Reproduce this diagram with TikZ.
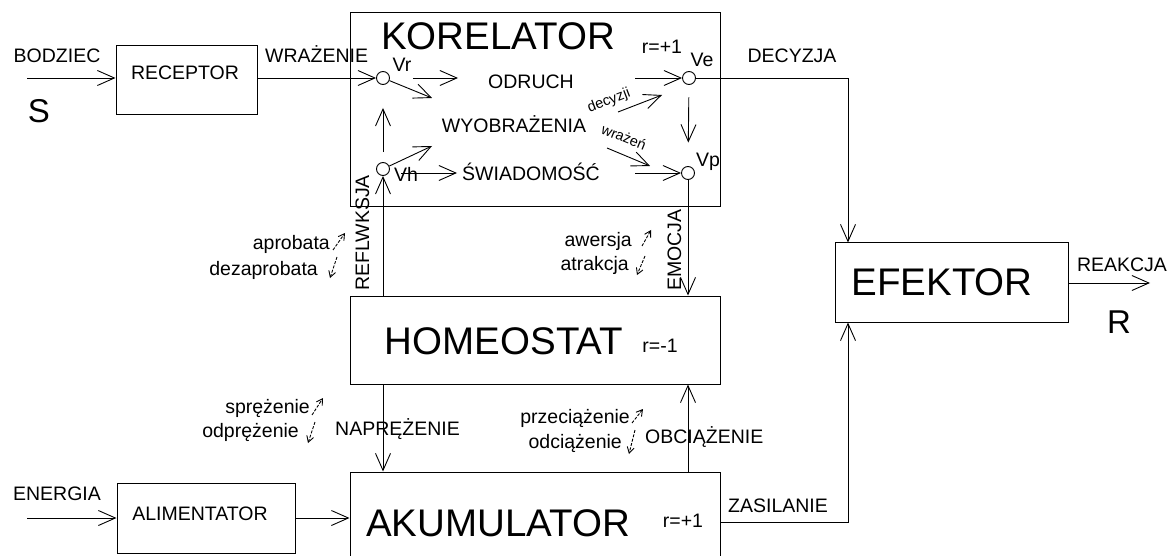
\documentclass[tikz,border=0pt]{standalone}
\usepackage{fontspec}
\setmainfont{Liberation Sans}
\usetikzlibrary{arrows.meta}
\begin{document}
\begin{tikzpicture}[x=1pt,y=-1pt,
  box/.style={draw,line width=1pt,inner sep=0pt,rectangle},
  conn/.style={line width=0.9pt},
  arr/.style={conn,-{Straight Barb[length=17pt,width=15pt]}},
  sarr/.style={line width=0.9pt,dash pattern=on 3pt off 1.5pt,-{Straight Barb[length=6pt,width=7pt]}},
  med/.style={font=\fontsize{19.5}{22}\selectfont,inner sep=0pt},
  big/.style={font=\fontsize{38.5}{40}\selectfont,inner sep=0pt},
  srlab/.style={font=\fontsize{33}{36}\selectfont,inner sep=0pt},
  rotlab/.style={font=\fontsize{14.5}{16}\selectfont,inner sep=0pt},
  vc/.style={circle,draw,line width=0.9pt,minimum size=13pt,inner sep=0pt}
]
\useasboundingbox (0,0) rectangle (1170,556);
\clip (0,0) rectangle (1170,556);
\fill[white] (0,0) rectangle (1170,556);

% boxes
\node[box,minimum width=141pt,minimum height=69pt] (receptor) at (186.5,80.5) {};
\node[box,minimum width=370pt,minimum height=194pt] (korelator) at (535,110) {};
\node[box,minimum width=370pt,minimum height=88pt] (homeostat) at (535,340) {};
\node[box,minimum width=233pt,minimum height=79pt] (efektor) at (951.5,282.5) {};
\node[box,minimum width=178pt,minimum height=70pt] (alimentator) at (206,518) {};
\node[box,minimum width=370pt,minimum height=100pt] (akumulator) at (535,522) {};

% box texts
\node[med,anchor=base] (treceptor) at (185,80) {RECEPTOR};
\node[med,anchor=base] (talimentator) at (200,520) {ALIMENTATOR};
\node[big,anchor=base] (tkorelator) at (498,50) {KORELATOR};
\node[big,anchor=base] (thomeostat) at (504,354) {HOMEOSTAT};
\node[big,anchor=base] (takumulator) at (498,536) {AKUMULATOR};
\node[big,anchor=base] (tefektor) at (942,295) {EFEKTOR};
\node[med,anchor=base] (rkor) at (662,54) {r=+1};
\node[med,anchor=base] (rhom) at (660,352) {r=-1};
\node[med,anchor=base] (raku) at (683,527) {r=+1};

% circles
\node[vc] (Vr) at (383,78) {};
\node[vc] (Ve) at (689,78) {};
\node[vc] (Vh) at (383,169) {};
\node[vc] (Vp) at (688,173) {};
\node[med,anchor=base] (lVr) at (402,72) {Vr};
\node[med,anchor=base] (lVe) at (702,67) {Ve};
\node[med,anchor=base] (lVh) at (406,182) {Vh};
\node[med,anchor=base] (lVp) at (708,167) {Vp};

% inner texts
\node[med,anchor=base] (todruch) at (531,89) {ODRUCH};
\node[med,anchor=base] (twyobr) at (514,133) {WYOBRAŻENIA};
\node[med,anchor=base] (tswiad) at (531,181) {ŚWIADOMOŚĆ};
\node[rotlab,rotate=21] (tdec) at (609,101) {decyzji};
\node[rotlab,rotate=-22] (twraz) at (624,137) {wrażeń};

% inner coordinates
\coordinate (odr) at (458,78);
\coordinate (vrd) at (432,98);
\coordinate (vhd) at (432,146);
\coordinate (swiA) at (401,173);
\coordinate (swiB) at (457,173);
\coordinate (veA) at (635,78);
\coordinate (dA) at (618,112);
\coordinate (dB) at (662,95);
\coordinate (wA) at (607,148);
\coordinate (wB) at (650,166);
\coordinate (vpA) at (635,173);

\draw[arr,shorten <=23pt] (Vr) -- (odr);
\draw[arr] (Vr) -- (vrd);
\draw[arr] (Vh) -- (vhd);
\draw[arr] (swiA) -- (swiB);
\draw[arr,shorten <=10pt,shorten >=23pt] (Vh) -- (Vr);
\draw[arr] (veA) -- (Ve.west);
\draw[arr] (dA) -- (dB);
\draw[arr,shorten <=12.5pt,shorten >=23.5pt] (Ve) -- (Vp);
\draw[arr] (wA) -- (wB);
\draw[arr] (vpA) -- (Vp.west);

% outer coordinates
\coordinate (sin) at (27,78);
\coordinate (ein) at (27,518);
\coordinate (dx) at (848,78);
\coordinate (zs) at (848,522);
\coordinate (rout) at (1150,283);

% outer connectors
\draw[arr] (sin) -- (sin -| receptor.west);
\draw[arr] (receptor.east |- Vr) -- (Vr.west);
\draw[arr] (Ve.east) -- (dx) -- (dx |- efektor.north);
\draw[arr] (homeostat.north -| Vh) -- (Vh.south);
\draw[arr] (Vp.south) -- (homeostat.north -| Vp);
\draw[arr] (homeostat.south -| Vh) -- (akumulator.north -| Vh);
\draw[arr] (akumulator.north -| Vp) -- (homeostat.south -| Vp);
\draw[arr] (zs -| akumulator.east) -- (zs) -- (zs |- efektor.south);
\draw[arr] (efektor.east |- rout) -- (rout);
\draw[arr] (ein) -- (ein -| alimentator.west);
\draw[arr] (alimentator.east) -- (alimentator.east -| akumulator.west);

% outer labels
\node[med,anchor=base] (lbodz) at (57,63) {BODZIEC};
\node[srlab,anchor=base] (lS) at (39,123) {S};
\node[med,anchor=base west] (lwraz) at (265,63) {WRAŻENIE};
\node[med,anchor=base] (ldec) at (792,63) {DECYZJA};
\node[med,anchor=base] (lreak) at (1122,271) {REAKCJA};
\node[srlab,anchor=base] (lR) at (1119,333) {R};
\node[med,anchor=base] (lener) at (57,500) {ENERGIA};
\node[med,anchor=base] (lzas) at (778,512) {ZASILANIE};
\node[med,anchor=base west] (lnap) at (335,435) {NAPRĘŻENIE};
\node[med,anchor=base west] (lobc) at (645,443) {OBCIĄŻENIE};
\node[med,rotate=90,anchor=base west] (lrefl) at (369,291) {REFLWKSJA};
\node[med,rotate=90,anchor=base west] (lemo) at (681,291) {EMOCJA};

\node[med,anchor=base east] (lapr) at (330,250) {aprobata};
\node[med,anchor=base east] (ldez) at (318,275) {dezaprobata};
\node[med,anchor=base east] (lawe) at (632,247) {awersja};
\node[med,anchor=base east] (latr) at (629,270) {atrakcja};
\node[med,anchor=base east] (lspr) at (310,413) {sprężenie};
\node[med,anchor=base east] (lodp) at (299,437) {odprężenie};
\node[med,anchor=base east] (lprz) at (630,423) {przeciążenie};
\node[med,anchor=base east] (lodc) at (622,448) {odciążenie};

% small double arrows
\draw[sarr] (333,250) -- (345,233);
\draw[sarr] (337,257) -- (330,278);
\draw[sarr] (642,246) -- (651,230);
\draw[sarr] (645,256) -- (637,275);
\draw[sarr] (312,415) -- (323,398);
\draw[sarr] (315,422) -- (308,443);
\draw[sarr] (632,423) -- (643,409);
\draw[sarr] (635,430) -- (629,454);
\end{tikzpicture}
\end{document}
